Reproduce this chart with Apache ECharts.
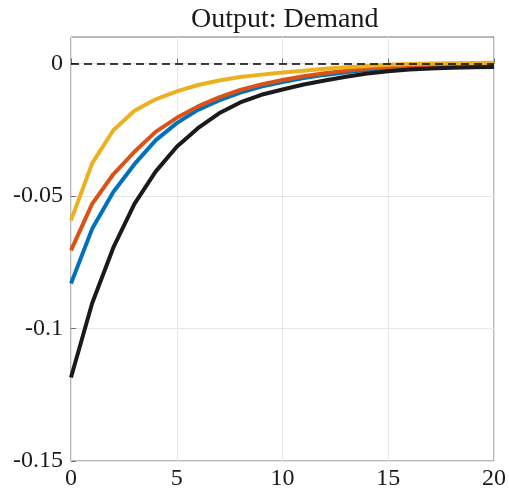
<!DOCTYPE html>
<html lang="en">
<head>
    <meta charset="UTF-8">
    <title>Output: Demand</title>
    <script src="https://cdn.jsdelivr.net/npm/echarts@6/dist/echarts.min.js"></script>
</head>
<body style="margin:0">
<div id="main" style="width: 509px;height:493px;"></div>
<script>
    // horizon 0..20
    const periods = [0, 1, 2, 3, 4, 5, 6, 7, 8, 9, 10, 11, 12, 13, 14, 15, 16, 17, 18, 19, 20];
    const blueLine = [-0.0830, -0.0624, -0.0485, -0.0380, -0.0290, -0.0225, -0.0175, -0.0139, -0.0110, -0.0087, -0.0070,
        -0.0055, -0.0043, -0.0033, -0.0024, -0.0017, -0.0013, -0.0010, -0.0008, -0.0007, -0.0006];
    const orangeLine = [-0.0705, -0.0530, -0.0418, -0.0333, -0.0258, -0.0205, -0.0162, -0.0128, -0.0100, -0.0079, -0.0062,
        -0.0048, -0.0037, -0.0027, -0.0019, -0.0013, -0.0009, -0.0006, -0.0005, -0.0004, -0.0003];
    const yellowLine = [-0.0592, -0.0377, -0.0252, -0.0178, -0.0135, -0.0105, -0.0081, -0.0064, -0.0051, -0.0042, -0.0034,
        -0.0027, -0.0020, -0.0014, -0.0009, -0.0005, -0.0002, 0.0000, 0.0001, 0.0002, 0.0003];
    const blackLine = [-0.1185, -0.0905, -0.0695, -0.0530, -0.0408, -0.0314, -0.0244, -0.0188, -0.0147, -0.0118, -0.0098,
        -0.0079, -0.0064, -0.0050, -0.0038, -0.0029, -0.0023, -0.0019, -0.0016, -0.0014, -0.0013];
    const yTicks = [-0.15, -0.1, -0.05, 0];

    const serif = 'Liberation Serif';
    const myChart = echarts.init(document.getElementById('main'));

    function pairs(vals) {
        return vals.map(function (v, i) {
            return [periods[i], v];
        });
    }
    function line(name, vals, color, extra) {
        return Object.assign({
            name: name,
            type: 'line',
            showSymbol: false,
            data: pairs(vals),
            lineStyle: {color: color, width: 4},
            itemStyle: {color: color}
        }, extra || {});
    }

    option = {
        animation: false,
        title: {
            text: 'Output: Demand',
            left: 186,
            top: 1,
            textStyle: {fontFamily: serif, fontWeight: 'normal', fontSize: 28, color: '#1a1a1a'}
        },
        grid: {
            left: 71, right: 15, top: 37, bottom: 32,
            show: true, borderColor: '#6e6e6e', borderWidth: 1
        },
        xAxis: {
            type: 'value',
            min: 0, max: 20, interval: 5,
            axisLine: {show: false},
            axisTick: {inside: true, length: 5, lineStyle: {color: '#6e6e6e'}},
            splitLine: {lineStyle: {color: '#e6e6e6'}},
            axisLabel: {fontFamily: serif, fontSize: 24, color: '#1a1a1a', margin: 6}
        },
        yAxis: {
            type: 'value',
            min: -0.15, max: 0.01, interval: 0.05,
            axisLine: {show: false},
            axisTick: {inside: true, length: 5, customValues: yTicks, lineStyle: {color: '#6e6e6e'}},
            splitLine: {lineStyle: {color: '#e6e6e6'}},
            axisLabel: {
                fontFamily: serif, fontSize: 24, color: '#1a1a1a', margin: 8,
                customValues: yTicks,
                formatter: function (v) {
                    return String(Math.round(v * 100) / 100);
                }
            }
        },
        series: [
            line('blue', blueLine, '#0072BD', {
                markLine: {
                    silent: true, symbol: 'none', label: {show: false},
                    lineStyle: {color: '#000', width: 1.7, type: [8, 5]},
                    data: [{yAxis: 0}]
                }
            }),
            line('orange', orangeLine, '#D95319'),
            line('yellow', yellowLine, '#EDB120'),
            line('black', blackLine, '#1a1a1a')
        ]
    };
    myChart.setOption(option);
</script>
</body>
</html>
